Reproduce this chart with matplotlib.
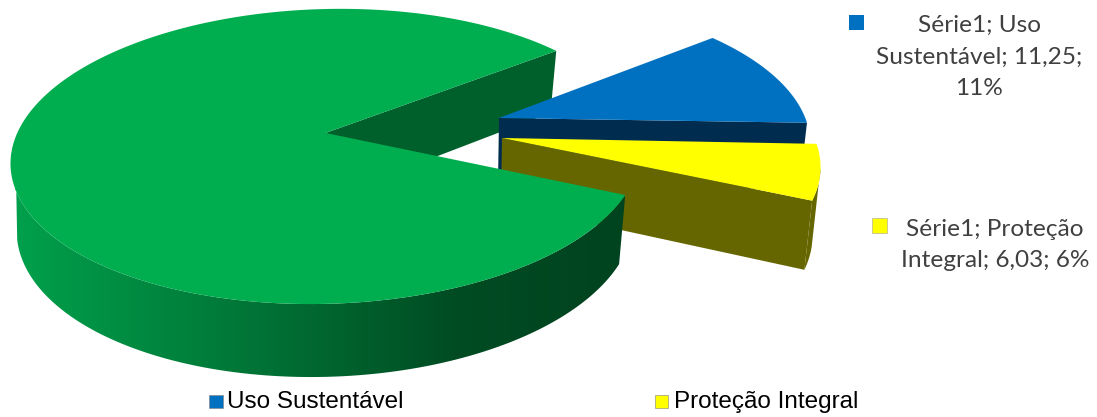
import numpy as np
import matplotlib
matplotlib.use("Agg")
import matplotlib.pyplot as plt
from matplotlib.colors import LinearSegmentedColormap
from matplotlib.patches import Polygon, Rectangle

categories = ["Uso Sustentável", "Proteção Integral", "Demais"]
values = [11.25, 6.03, 82.72]
percent_labels = ["11%", "6%"]

top_colors = ["#0070C0", "#FFFF00", "#00AE50"]
wall_colors = ["#002C50", "#666600", "#00602B"]

# picture is drawn in pixel coords, everything below is layout only
START_ANGLE = 35.8
PERSPECTIVE = 0.159
RX, RY = 311, 143.7
APEX = [(499, 118), (502, 138), (325.5, 133)]
SCALE = [0.975, 0.995, 1.0]
SKEW_X = [-22, -25, 0]
SKEW_Y = [7, 6, 7]


def project(theta, i):
    u, v = np.cos(theta), np.sin(theta)
    d = 1 + PERSPECTIVE * v
    x, y = u / d, v / d
    px = APEX[i][0] + SCALE[i] * (RX * x + SKEW_X[i] * y)
    py = APEX[i][1] - SCALE[i] * (RY * y + SKEW_Y[i] * x)
    return px, py, v


def drop(px, py, v, cx, pull=0.025):
    # side wall: lower edge sits lower at the front and pulls in a little
    return px - pull * (px - cx), py + 66 - 7 * v


fig = plt.figure(figsize=(10.97, 4.17), dpi=100)
ax = fig.add_axes([0, 0, 1, 1])
ax.set_xlim(0, 1097)
ax.set_ylim(417, 0)
ax.axis("off")

spans = np.radians(np.array(values) / sum(values) * 360)
ends = np.radians(START_ANGLE) - np.cumsum(spans)
starts = ends + spans

arcs = []
for i in range(3):
    th = np.linspace(starts[i], ends[i], 400)
    arcs.append((th, ) + project(th, i))

# green, wall of the cut
th, gx, gy, gv = arcs[2]
bx, by = drop(gx[-1], gy[-1], gv[-1], APEX[2][0])
ax.add_patch(Polygon([APEX[2], (gx[-1], gy[-1]), (bx, by), (APEX[2][0], APEX[2][1] + 66)],
                     fc=wall_colors[2], ec="none", zorder=1))

# blue slice
th, x, y, v = arcs[0]
bx, by = drop(x, y, v, APEX[0][0])
ax.add_patch(Polygon([APEX[0], (x[-1], y[-1]), (bx[-1], by[-1]), (APEX[0][0] - 1, APEX[0][1] + 66)],
                     fc=wall_colors[0], ec="none", zorder=2))
ax.add_patch(Polygon(np.vstack([[APEX[0]], np.c_[x, y]]), fc=top_colors[0], ec="none", zorder=3))

# yellow slice
th, x, y, v = arcs[1]
bx, by = drop(x, y, v, APEX[1][0])
ax.add_patch(Polygon([APEX[1], (x[-1], y[-1]), (bx[-1], by[-1]), (APEX[1][0] - 1, APEX[1][1] + 66)],
                     fc=wall_colors[1], ec="none", zorder=4))
# outer rim, from the widest point of the arc so the outline stays convex
widest = np.argmax(x)
mid = int(len(x) * 0.6)
rim = np.vstack([np.c_[x[widest:], y[widest:]], np.c_[bx[mid:], by[mid:]][::-1]])
ax.add_patch(Polygon(rim, fc=wall_colors[1], ec="none", zorder=4))
ax.add_patch(Polygon(np.vstack([[APEX[1]], np.c_[x, y]]), fc=top_colors[1], ec="none", zorder=5))

# green outer wall with the gradient
th, x, y, v = arcs[2]
keep_top = th > np.radians(-181)
keep_low = th > np.radians(-168)
bx, by = drop(x[keep_low], y[keep_low], v[keep_low], 318, pull=0.02)
wall = Polygon(np.vstack([np.c_[x[keep_top], y[keep_top]], np.c_[bx, by][::-1]]), fc="none", ec="none", zorder=6)
ax.add_patch(wall)
cmap = LinearSegmentedColormap.from_list(
    "wall", [(0, "#00A04C"), (0.3, "#007F3B"), (0.72, "#004C23"), (1, "#00431F")])
im = ax.imshow(np.linspace(0, 1, 256)[None, :], cmap=cmap, extent=(15, 625, 390, 150),
               aspect="auto", zorder=6, vmin=0, vmax=1)
im.set_clip_path(wall)
ax.set_xlim(0, 1097)
ax.set_ylim(417, 0)

ax.add_patch(Polygon(np.vstack([[APEX[2]], np.c_[x, y]]), fc=top_colors[2], ec="none", zorder=7))

# data labels
label_font = dict(family="Lato", fontsize=17.6, color="#404040", ha="center", va="center", linespacing=1.6)
ax.text(979, 57, f"Série1; Uso\nSustentável; {values[0]:.2f};\n{percent_labels[0]}".replace(".", ","), **label_font)
ax.text(995, 245, f"Série1; Proteção\nIntegral; {values[1]:.2f}; {percent_labels[1]}".replace(".", ","), **label_font)
ax.add_patch(Rectangle((849, 15), 15, 15, fc=top_colors[0], ec="none"))
ax.add_patch(Rectangle((872, 218), 15, 15, fc=top_colors[1], ec="#A0A0A0", lw=0.4))

# legend
legend_font = dict(family="Liberation Sans", fontsize=17.5, color="black", ha="left", va="center")
ax.add_patch(Rectangle((208.5, 395), 14, 13, fc=top_colors[0], ec="#7f7f7f", lw=0.4))
ax.text(227, 402, categories[0], **legend_font)
ax.add_patch(Rectangle((655, 395), 13, 13, fc=top_colors[1], ec="#7f7f7f", lw=0.4))
ax.text(674, 402, categories[1], **legend_font)

fig.savefig("out.png", dpi=100)
